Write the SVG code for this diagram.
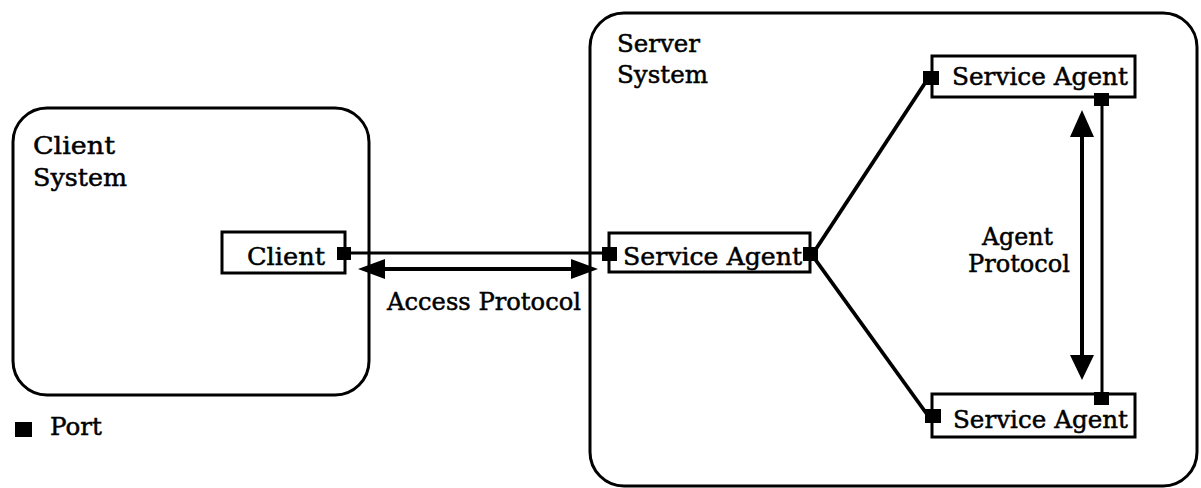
<svg xmlns="http://www.w3.org/2000/svg" width="1201" height="488" viewBox="0 0 1201 488">
<style>
.sys{fill:none;stroke:#000;stroke-width:3}
.box{fill:#fff;stroke:#000;stroke-width:3}
.port{fill:#000}
.ln{stroke:#000;stroke-width:3;fill:none}
.dg{stroke:#000;stroke-width:3.8;fill:none}
.ar{stroke:#000;stroke-width:4;fill:none}
.ah{fill:#000}
text{font-family:"DejaVu Serif","Liberation Serif",serif;font-size:25px;fill:#000;stroke:#000;stroke-width:0.5}
</style>
<rect width="1201" height="488" fill="#fff"/>
<g id="client-system">
<rect class="sys" x="13" y="108" width="356" height="287" rx="34"/>
<text x="33" y="154" textLength="82" lengthAdjust="spacingAndGlyphs">Client</text>
<text x="33" y="186" textLength="94" lengthAdjust="spacingAndGlyphs">System</text>
</g>
<g id="server-system">
<rect class="sys" x="590" y="13" width="607" height="473" rx="34"/>
<text x="617" y="52" textLength="83" lengthAdjust="spacingAndGlyphs">Server</text>
<text x="617" y="83" textLength="91" lengthAdjust="spacingAndGlyphs">System</text>
</g>
<g id="connectors">
<line class="ln" x1="350" y1="253" x2="605" y2="253"/>
<line class="ar" x1="380" y1="269" x2="575" y2="269"/>
<polygon class="ah" points="358,269 385,259 385,279"/>
<polygon class="ah" points="598,269 571,259 571,279"/>
<line class="dg" x1="812" y1="255" x2="929" y2="77"/>
<line class="dg" x1="812" y1="255" x2="929" y2="417"/>
<line class="ln" x1="1102" y1="104" x2="1102" y2="394"/>
<line class="ar" x1="1082" y1="132" x2="1082" y2="358"/>
<polygon class="ah" points="1082,110 1070,137 1094,137"/>
<polygon class="ah" points="1082,380 1070,355 1094,355"/>
</g>
<g id="client">
<rect class="box" x="222" y="232" width="123" height="41"/>
<text x="247" y="265" textLength="78" lengthAdjust="spacingAndGlyphs">Client</text>
<rect class="port" x="337" y="247" width="14" height="13"/>
</g>
<g id="service-agent-main">
<rect class="box" x="609" y="233" width="201" height="39"/>
<text x="623" y="265" textLength="179" lengthAdjust="spacingAndGlyphs">Service Agent</text>
<rect class="port" x="602" y="247" width="15" height="14"/>
<rect class="port" x="803" y="247" width="15" height="14"/>
</g>
<g id="service-agent-top">
<rect class="box" x="932" y="56" width="203" height="41"/>
<text x="952" y="85" textLength="176" lengthAdjust="spacingAndGlyphs">Service Agent</text>
<rect class="port" x="923" y="71" width="16" height="14"/>
<rect class="port" x="1094" y="93" width="15" height="13"/>
</g>
<g id="service-agent-bottom">
<rect class="box" x="932" y="394" width="203" height="43"/>
<text x="953" y="428" textLength="175" lengthAdjust="spacingAndGlyphs">Service Agent</text>
<rect class="port" x="925" y="409" width="16" height="14"/>
<rect class="port" x="1094" y="392" width="15" height="13"/>
</g>
<g id="labels">
<text x="387" y="310" textLength="194" lengthAdjust="spacingAndGlyphs">Access Protocol</text>
<text x="982" y="245" textLength="71" lengthAdjust="spacingAndGlyphs">Agent</text>
<text x="968" y="272" textLength="102" lengthAdjust="spacingAndGlyphs">Protocol</text>
</g>
<g id="legend">
<rect class="port" x="15" y="422" width="17" height="15"/>
<text x="50" y="435" textLength="52" lengthAdjust="spacingAndGlyphs">Port</text>
</g>
</svg>
